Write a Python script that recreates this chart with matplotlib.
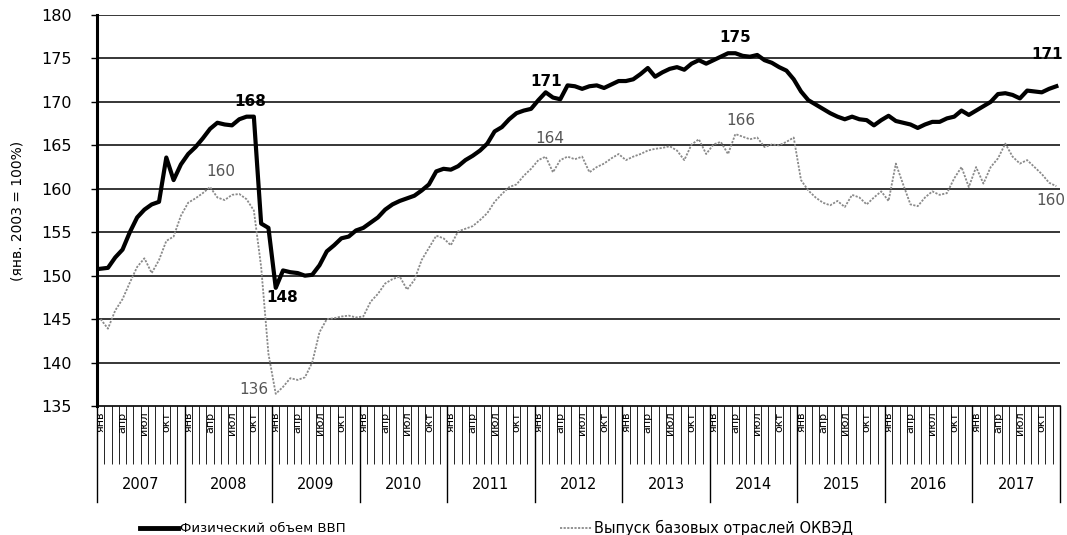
import matplotlib
matplotlib.use("Agg")
import matplotlib.pyplot as plt
import matplotlib.transforms as mtransforms
from matplotlib.lines import Line2D
import numpy as np

years = [str(y) for y in range(2007, 2018)]
month_names = ["янв", "апр", "июл", "окт"]
legend_labels = ["Физический объем ВВП", "Выпуск базовых отраслей ОКВЭД"]

gdp = [
    150.8, 150.9, 152.1, 153.0, 155.0, 156.7, 157.6, 158.2, 158.5, 163.6, 161.0, 162.8,
    164.0, 164.8, 165.8, 166.9, 167.6, 167.4, 167.3, 168.0, 168.3, 168.3, 156.0, 155.5,
    148.6, 150.6, 150.4, 150.3, 150.0, 150.1, 151.2, 152.8, 153.5, 154.3, 154.5, 155.2,
    155.5, 156.1, 156.7, 157.6, 158.2, 158.6, 158.9, 159.2, 159.8, 160.5, 162.0, 162.3,
    162.2, 162.6, 163.3, 163.8, 164.4, 165.2, 166.6, 167.1, 168.0, 168.7, 169.0, 169.2,
    170.2, 171.1, 170.5, 170.3, 171.9, 171.8, 171.5, 171.8, 171.9, 171.6, 172.0, 172.4,
    172.4, 172.6, 173.2, 173.9, 172.9, 173.4, 173.8, 174.0, 173.7, 174.4, 174.8, 174.4,
    174.8, 175.2, 175.6, 175.6, 175.3, 175.2, 175.4, 174.8, 174.5, 174.0, 173.6, 172.6,
    171.2, 170.2, 169.7, 169.2, 168.7, 168.3, 168.0, 168.3, 168.0, 167.9, 167.3, 167.9,
    168.4, 167.8, 167.6, 167.4, 167.0, 167.4, 167.7, 167.7, 168.1, 168.3, 169.0, 168.5,
    169.0, 169.5, 170.0, 170.9, 171.0, 170.8, 170.4, 171.3, 171.2, 171.1, 171.5, 171.8,
]

base = [
    145.0, 143.9, 146.0, 147.3, 149.2, 151.0, 152.0, 150.3, 151.8, 154.0, 154.5, 156.9,
    158.4, 158.9, 159.5, 160.2, 159.0, 158.7, 159.3, 159.4, 158.8, 157.5, 151.0, 141.0,
    136.4, 137.2, 138.2, 138.0, 138.3, 140.0, 143.5, 145.0, 145.1, 145.3, 145.4, 145.2,
    145.3, 147.0, 147.9, 149.1, 149.6, 149.9, 148.4, 149.5, 151.8, 153.2, 154.6, 154.3,
    153.5, 155.1, 155.4, 155.7, 156.4, 157.2, 158.5, 159.4, 160.2, 160.5, 161.5, 162.3,
    163.3, 163.7, 161.9, 163.3, 163.7, 163.4, 163.7, 161.9, 162.5, 162.9, 163.5, 164.0,
    163.3, 163.7, 164.0, 164.4, 164.6, 164.7, 164.9, 164.4, 163.3, 165.1, 165.7, 164.0,
    165.1, 165.4, 164.0, 166.3, 166.0, 165.7, 165.9, 164.8, 165.1, 165.0, 165.4, 165.9,
    161.0, 159.8, 159.0, 158.4, 158.1, 158.6, 157.9, 159.3, 159.0, 158.2, 159.0, 159.7,
    158.6, 162.9, 160.5, 158.2, 158.0, 159.0, 159.7, 159.3, 159.5, 161.2, 162.5, 160.2,
    162.5, 160.6, 162.5, 163.5, 165.2, 163.7, 162.9, 163.3, 162.5, 161.7, 160.7, 160.3,
]

gdp_labels = [(21, "168", -0.5, 11), (24, "148", 0.9, -7), (61, "171", 0, 8), (87, "175", 0, 11), (131, "171", -1.2, 23)]
base_labels = [(15, "160", 1.5, 11), (24, "136", -3.0, 3), (61, "164", 0.5, 13), (87, "166", 0.7, 10), (131, "160", -0.8, -10)]

n = len(gdp)
x = np.arange(n)
GRAY = '#8a8a8a'

plt.rcParams['font.family'] = ['DejaVu Sans']
fig = plt.figure(figsize=(10.67, 5.35), dpi=100)
ax = fig.add_axes([97/1067, 1 - 406/535, (1060-97)/1067, (406-15)/535])

ax.set_ylim(135, 180)
ax.set_xlim(-0.5, n - 0.5)
ax.set_yticks(np.arange(135, 181, 5))
ax.tick_params(axis='y', labelsize=11.5, length=4, width=1, colors='black', pad=14)
for yv in range(140, 181, 5):
    ax.axhline(yv, color='black', lw=1.1, zorder=1)

ax.plot(x, base, color=GRAY, lw=1.3, ls=(0, (1.2, 0.8)), zorder=3)
ax.plot(x, gdp, color='black', lw=3, zorder=4, solid_joinstyle='round')

for i, t, dx, dy in gdp_labels:
    ax.annotate(t, (i + dx, gdp[i]), xytext=(0, dy), textcoords='offset points',
                ha='center', va='center', fontsize=11, fontweight='bold', color='black', zorder=5)
for i, t, dx, dy in base_labels:
    ax.annotate(t, (i + dx, base[i]), xytext=(0, dy), textcoords='offset points',
                ha='center', va='center', fontsize=11, color='#555555', zorder=5)

ax.set_ylabel("(янв. 2003 = 100%)", fontsize=10, labelpad=12)

for s in ['top', 'right']:
    ax.spines[s].set_visible(False)
ax.spines['left'].set_linewidth(2.2)
ax.spines['bottom'].set_linewidth(1.2)

# month ticks and labels
ax.set_xticks(np.arange(0, n, 3))
ax.set_xticklabels([month_names[(k // 3) % 4] for k in range(0, n, 3)], rotation=90, fontsize=8)
ax.tick_params(axis='x', which='major', length=0, pad=4)
ax.set_xticks(np.arange(-0.5, n, 1), minor=True)
ax.tick_params(axis='x', which='minor', length=42, width=0.6, color='black')

trans = mtransforms.blended_transform_factory(ax.transData, ax.transAxes)
for k in range(len(years) + 1):
    b = -0.5 + 12 * k
    ax.plot([b, b], [0, -0.245], transform=trans, clip_on=False, color='black', lw=1)
for k, yr in enumerate(years):
    ax.text(12 * k + 5.5, -0.202, yr, transform=trans, ha='center', va='center', fontsize=10.5)

# legend (drawn manually to match spacing)
ly = 1 - 528/535
fig.add_artist(Line2D([140/1067, 178/1067], [ly, ly], color='black', lw=3.5, transform=fig.transFigure))
fig.text(180/1067, ly, legend_labels[0], fontsize=9.5, ha='left', va='center')
fig.add_artist(Line2D([560/1067, 592/1067], [ly, ly], color=GRAY, lw=1.3, ls=(0, (1.2, 0.8)),
                      transform=fig.transFigure))
fig.text(594/1067, ly, legend_labels[1], fontsize=10.5, ha='left', va='center')

fig.savefig("out.png", dpi=100)
